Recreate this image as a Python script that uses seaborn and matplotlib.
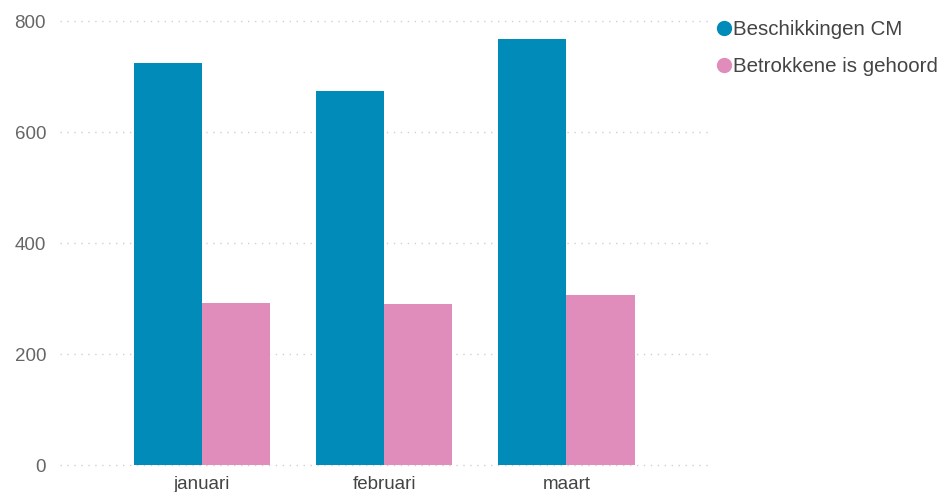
import pandas as pd
import matplotlib.pyplot as plt
from matplotlib.lines import Line2D
import seaborn as sns

months = ["januari", "februari", "maart"]
beschikkingen = [726, 675, 768]
gehoord = [292, 291, 307]
series = ["Beschikkingen CM", "Betrokkene is gehoord"]
colors = ["#008BB9", "#E08DBB"]

df = pd.DataFrame({
    "maand": months * 2,
    "aantal": beschikkingen + gehoord,
    "reeks": [series[0]] * 3 + [series[1]] * 3,
})

sns.set_theme(style="white")
plt.rcParams['font.family'] = ['Liberation Sans', 'DejaVu Sans']

fig = plt.figure(figsize=(9.52, 4.92), dpi=100)
ax = fig.add_axes([60 / 952, 25.3 / 492, 652 / 952, 448 / 492])

sns.barplot(data=df, x="maand", y="aantal", hue="reeks", palette=colors,
            width=0.75, gap=0, ax=ax, legend=False, saturation=1, linewidth=0)

ax.set_xlim(-0.78, 2.8)
ax.set_ylim(-3, 805)
ax.set_yticks([0, 200, 400, 600, 800])
ax.set_xlabel("")
ax.set_ylabel("")
for s in ax.spines.values():
    s.set_visible(False)
ax.yaxis.grid(True, linestyle=(0, (1, 4)), color="#d0d0d0", linewidth=1)
ax.set_axisbelow(True)
ax.tick_params(axis="y", length=0, pad=10, labelsize=13.5, labelcolor="#666666")
ax.tick_params(axis="x", length=0, pad=7, labelsize=13.5, labelcolor="#444444")

handles = [Line2D([], [], marker="o", linestyle="", markersize=10, color=c) for c in colors]
fig.legend(handles, series, loc="upper left", bbox_to_anchor=(698 / 952, 0.993),
           frameon=False, fontsize=14.8, handletextpad=0.0, labelspacing=0.9,
           handlelength=0.9, borderaxespad=0.4, labelcolor="#444444")

fig.savefig("out.png", dpi=100)
